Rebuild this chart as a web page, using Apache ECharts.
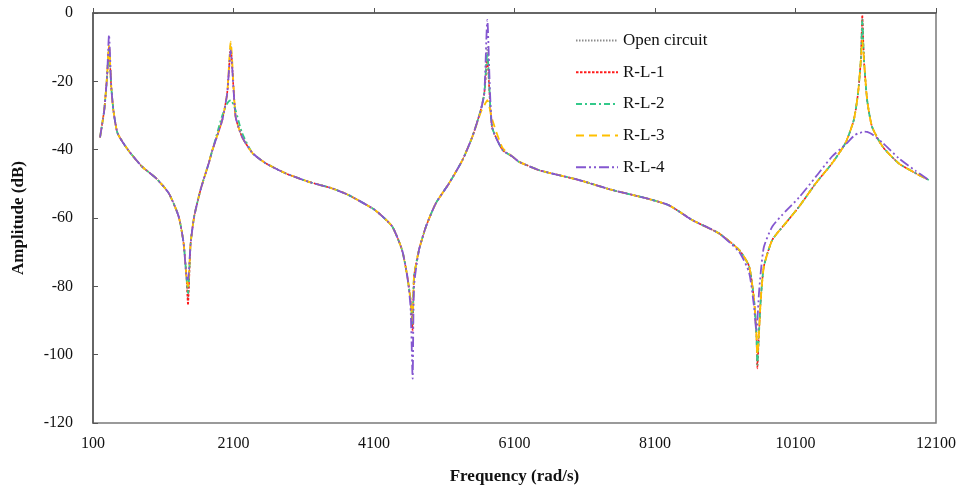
<!DOCTYPE html>
<html>
<head>
<meta charset="utf-8">
<script src="https://cdn.jsdelivr.net/npm/echarts@6/dist/echarts.min.js"></script>
<style>html,body{margin:0;padding:0;background:#fff;}#chart{width:966px;height:490px;}</style>
</head>
<body>
<div id="chart"></div>
<script>
// Frequency grid (rad/s)
const freq = [200,260,300,328,360,390,450,600,800,1000,1180,1320,1390,1430,1452,1490,1540,1630,1750,1800,
  1940,2010,2060,2130,2220,2370,2560,2840,3170,3500,3740,4080,4170,4360,4500,4575,4620,4650,4670,4740,
  4840,4980,5170,5360,5500,5620,5670,5713,5780,5930,6070,6160,6450,6540,7020,7490,7970,8300,8630,9010,
  9300,9440,9510,9543,9557,9580,9605,9650,9770,9960,10150,10390,10620,10810,10930,10990,11030,11051,11075,11120,
  11190,11340,11570,11810,12000];

const openCircuit = [-36.4,-28.4,-18.6,-10,-21.6,-28.4,-35.2,-40.1,-45,-48.4,-52.8,-59.6,-67.4,-77.2,-84,-67.4,-59.6,-51.8,-43.8,-40.1,
  -31.3,-23.5,-9,-30.3,-36.2,-41,-44,-46.9,-49.4,-51.3,-53.3,-57.2,-58.6,-62.5,-69.4,-77.2,-84,-92,-77.2,-69.4,
  -62.5,-55.7,-49.8,-43,-36.2,-28.4,-23.5,-10,-33.3,-40.1,-42,-43.5,-46,-46.5,-48.9,-51.8,-54.2,-56.3,-60.6,-64.5,
  -69.4,-74.2,-84,-93.7,-103,-93.7,-84,-74.2,-66.4,-61.5,-56.7,-49.8,-44,-38.1,-31.3,-23.5,-13.8,-1,-13.8,-25.5,
  -33.3,-39.1,-44,-46.9,-48.9];

const rl1 = [-36.4,-28.4,-18.6,-10,-21.6,-28.4,-35.2,-40.1,-45,-48.4,-52.8,-59.6,-67.4,-77.2,-85.5,-67.4,-59.6,-51.8,-43.8,-40.1,
  -31.3,-23.5,-10.8,-30.3,-36.2,-41,-44,-46.9,-49.4,-51.3,-53.3,-57.2,-58.6,-62.5,-69.4,-77.2,-84,-93,-77.2,-69.4,
  -62.5,-55.7,-49.8,-43,-36.2,-28.4,-23.5,-13.8,-33.3,-40.1,-42,-43.5,-46,-46.5,-48.9,-51.8,-54.2,-56.3,-60.6,-64.5,
  -69.4,-74.2,-84,-93.7,-104,-93.7,-84,-74.2,-66.4,-61.5,-56.7,-49.8,-44,-38.1,-31.3,-23.5,-13.8,-0.6,-13.8,-25.5,
  -33.3,-39.1,-44,-46.9,-48.9];

const rl2 = [-36.4,-28.4,-18.6,-11,-21.6,-28.4,-35.2,-40.1,-45,-48.4,-52.8,-59.6,-67.4,-77.2,-82,-67.4,-59.6,-51.8,-43.8,-40.1,
  -30,-26.5,-25.5,-28.5,-35,-41,-44,-46.9,-49.4,-51.3,-53.3,-57.2,-58.6,-62.5,-69.4,-77.2,-84,-91,-77.2,-69.4,
  -62.5,-55.7,-49.8,-43,-36.2,-28.4,-23.5,-11.7,-33.3,-40.1,-42,-43.5,-46,-46.5,-48.9,-51.8,-54.2,-56.3,-60.6,-64.5,
  -69.4,-74.2,-84,-93.7,-103,-93.7,-84,-74.2,-66.4,-61.5,-56.7,-49.8,-44,-38.1,-31.3,-23.5,-13.8,-2,-13.8,-25.5,
  -33.3,-39.1,-44,-46.9,-48.9];

const rl3 = [-36.4,-28.4,-18.6,-9.5,-21.6,-28.4,-35.2,-40.1,-45,-48.4,-52.8,-59.6,-67.4,-77.2,-80,-67.4,-59.6,-51.8,-43.8,-40.1,
  -31.3,-23.5,-8.4,-30.3,-36.2,-41,-44,-46.9,-49.4,-51.3,-53.3,-57.2,-58.6,-62.5,-69.4,-77.2,-84,-90,-77.2,-69.4,
  -62.5,-55.7,-49.8,-43,-36.2,-29,-27,-25.5,-31,-39.5,-42,-43.5,-46,-46.5,-48.9,-51.8,-54.2,-56.3,-60.6,-64.5,
  -69.4,-74.2,-84,-93.7,-100,-93.7,-84,-74.2,-66.4,-61.5,-56.7,-49.8,-44,-38.1,-31.3,-23.5,-13.8,-8,-13.8,-25.5,
  -33.3,-39.1,-44,-46.9,-48.9];

const rl4 = [-36.4,-28.4,-18.6,-6.4,-21.6,-28.4,-35.2,-40.1,-45,-48.4,-52.8,-59.6,-67.4,-77.2,-78,-67.4,-59.6,-51.8,-43.8,-40.1,
  -31.3,-23.5,-11,-30.3,-36.2,-41,-44,-46.9,-49.4,-51.3,-53.3,-57.2,-58.6,-62.5,-69.4,-77.2,-86,-107,-80,-69.4,
  -62.5,-55.7,-49.8,-43,-36.2,-28.4,-23.5,-2,-33.3,-40.1,-42,-43.5,-46,-46.5,-48.9,-51.8,-54.2,-56.3,-60.6,-64.5,
  -70,-76,-86,-93,-90,-82,-76,-68.5,-62.5,-58,-54,-47.9,-42,-38.5,-36,-35.2,-35,-34.8,-34.7,-34.8,
  -35.5,-38,-42.5,-46.2,-48.9];

const seriesNames = ['Open circuit','R-L-1','R-L-2','R-L-3','R-L-4'];
const seriesValues = [openCircuit, rl1, rl2, rl3, rl4];
const xTicks = [100,2100,4100,6100,8100,10100,12100];
const yTicks = [-120,-100,-80,-60,-40,-20,0];

const styles = [
  {color:'#8c8c8c', type:[1.5,1.5], width:1.2},
  {color:'#ff1a1a', type:[2.5,1.5], width:1.6},
  {color:'#33c98a', type:[6,3,2,3], width:1.8},
  {color:'#ffc000', type:[8,5], width:1.8},
  {color:'#8457d0', type:[10,3,2,3,2,3], width:1.8}
];

const font = '"Liberation Serif","Times New Roman",serif';
const chart = echarts.init(document.getElementById('chart'), null, {renderer:'canvas'});
chart.setOption({
  animation:false,
  backgroundColor:'#ffffff',
  grid:{left:93, right:30, top:13, bottom:67, show:true, borderColor:'#7a7a7a', borderWidth:1.5, backgroundColor:'transparent'},
  legend:{
    orient:'vertical', left:570, top:27, itemWidth:42, itemHeight:14, itemGap:14.7,
    data:seriesNames,
    itemStyle:{opacity:0, borderWidth:0},
    textStyle:{fontFamily:font, fontSize:17, color:'#111'}
  },
  xAxis:{
    type:'value', min:xTicks[0], max:xTicks[xTicks.length-1], interval:2000,
    name:'Frequency (rad/s)', nameLocation:'middle', nameGap:45,
    nameTextStyle:{fontFamily:font, fontSize:17, fontWeight:'bold', color:'#111'},
    axisLine:{lineStyle:{color:'#555', width:1.5}},
    axisTick:{inside:true, length:5, lineStyle:{color:'#555'}},
    axisLabel:{fontFamily:font, fontSize:16, color:'#111', margin:13, formatter:(v)=>String(v)},
    splitLine:{show:false}
  },
  yAxis:{
    type:'value', min:yTicks[0], max:yTicks[yTicks.length-1], interval:20,
    name:'Amplitude (dB)', nameLocation:'middle', nameGap:66, nameRotate:90,
    nameTextStyle:{fontFamily:font, fontSize:17, fontWeight:'bold', color:'#111'},
    axisLine:{show:true, lineStyle:{color:'#555', width:1.5}},
    axisTick:{show:true, inside:true, length:5, lineStyle:{color:'#555'}},
    axisLabel:{fontFamily:font, fontSize:16, color:'#111', margin:20, formatter:(v)=>String(v)},
    splitLine:{show:false}
  },
  series: seriesNames.map((n,k)=>({
    name:n, type:'line', symbol:'none', smooth:0.2,
    lineStyle:{color:styles[k].color, type:styles[k].type, width:styles[k].width},
    itemStyle:{color:styles[k].color},
    data: freq.map((f,i)=>[f, seriesValues[k][i]]),
    z: 2+k
  }))
});
</script>
</body>
</html>
